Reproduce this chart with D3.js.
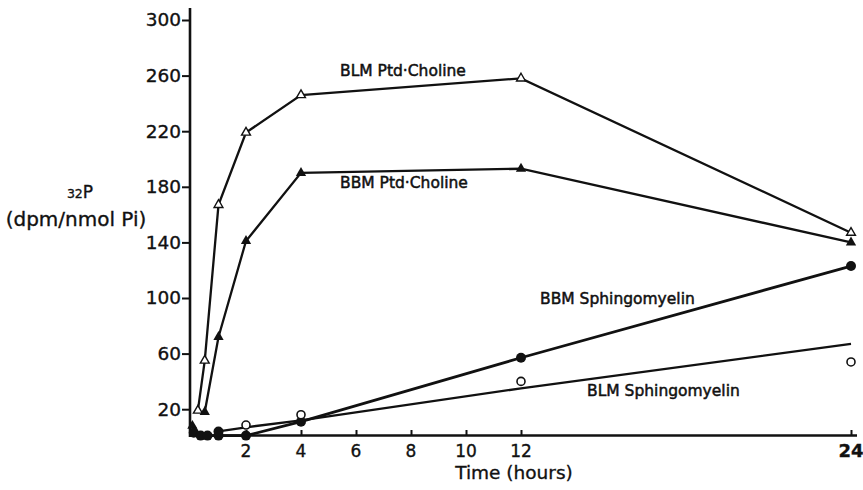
<!DOCTYPE html>
<html>
<head>
<meta charset="utf-8">
<script src="https://cdnjs.cloudflare.com/ajax/libs/d3/7.8.5/d3.min.js"></script>
<style>
    body { margin: 0; background: #fff; }
    text { font-family: "DejaVu Sans", Verdana, sans-serif; fill: #111; stroke: #111; stroke-width: 0.35px; }
</style>
</head>
<body>
<div id="chart"></div>
<script>
// Data (time in hours, 32P in dpm/nmol Pi)
var blmPcTimes = [0.25, 0.5, 1, 2, 4, 12, 24];
var blmPcValues = [19, 55, 167, 219, 246, 258, 147];

var bbmPcTimes = [0.5, 1, 2, 4, 12, 24];
var bbmPcValues = [18, 72, 141, 190, 193, 140];

var bbmSmTimes = [0, 0.25, 0.5, 1, 2, 4, 12, 24];
var bbmSmValues = [4, 2, 1, 1, 1, 11, 57, 123];

// BLM sphingomyelin is drawn as a fitted line plus separate points
var blmSmLineTimes = [1, 2, 4, 12, 24];
var blmSmLineValues = [4, 7, 12, 35, 67];
var blmSmPointTimes = [2, 4, 12, 24];
var blmSmPointValues = [8.6, 16, 40, 54];

// clutter of points near the origin
var originTriTimes = [0.05, 0.15];
var originTriValues = [8, 4];
var originDotTimes = [0.1, 0.35, 0.6, 1];
var originDotValues = [3, 1, 1, 4];

var xTicks = [2, 4, 6, 8, 10, 12, 24];
var yTicks = [20, 60, 100, 140, 180, 220, 260, 300];

var zip = function(ts, vs) { return ts.map(function(t, i) { return { t: t, v: vs[i] }; }); };

var width = 863, height = 490;

var svg = d3.select("#chart")
    .append("svg")
    .attr("width", width)
    .attr("height", height);

var x = d3.scaleLinear().domain([0, 24]).range([191, 851]);
var y = d3.scaleLinear().domain([0, 300]).range([437, 20]);

var line = d3.line()
    .x(function(d) { return x(d.t); })
    .y(function(d) { return y(d.v); });

// Axes
svg.append("line")
    .attr("x1", 190).attr("x2", 190)
    .attr("y1", 8).attr("y2", 437)
    .attr("stroke", "#111").attr("stroke-width", 2.6);

svg.append("line")
    .attr("x1", 189).attr("x2", 857)
    .attr("y1", 435.5).attr("y2", 435.5)
    .attr("stroke", "#111").attr("stroke-width", 2.6);

var yAxis = d3.axisLeft(y).tickValues(yTicks).tickSize(8).tickPadding(1);
var yg = svg.append("g")
    .attr("transform", "translate(190,0)")
    .call(yAxis);
yg.select(".domain").remove();
yg.selectAll("line").attr("stroke", "#111").attr("stroke-width", 2);
yg.selectAll("text")
    .style("font-size", "18.5px")
    .attr("font-family", null)
    .attr("fill", "#111");

var xAxis = d3.axisTop(x).tickValues(xTicks).tickSize(5).tickFormat("");
var xg = svg.append("g")
    .attr("transform", "translate(0,435)")
    .call(xAxis);
xg.select(".domain").remove();
xg.selectAll("line").attr("stroke", "#111").attr("stroke-width", 2);

// x tick labels sit below the axis
svg.selectAll(".xlab")
    .data(xTicks)
    .enter().append("text")
    .attr("class", "xlab")
    .attr("x", function(d) { return x(d); })
    .attr("y", 457)
    .attr("text-anchor", "middle")
    .style("font-size", function(d) { return d === 24 ? "18px" : "17px"; })
    .style("font-weight", function(d) { return d === 24 ? "bold" : "normal"; })
    .text(function(d) { return d; });

svg.append("text")
    .attr("x", 514).attr("y", 479)
    .attr("text-anchor", "middle")
    .style("font-size", "18.5px")
    .text("Time (hours)");

// y axis title
var yt = svg.append("text")
    .attr("x", 80).attr("y", 198)
    .attr("text-anchor", "middle")
    .style("font-size", "17px");
yt.append("tspan").style("font-size", "12.5px").text("32");
yt.append("tspan").text("P");

svg.append("text")
    .attr("x", 76).attr("y", 226)
    .attr("text-anchor", "middle")
    .style("font-size", "20px")
    .text("(dpm/nmol Pi)");

// Lines
var series = [zip(blmPcTimes, blmPcValues), zip(bbmPcTimes, bbmPcValues),
              zip(bbmSmTimes, bbmSmValues), zip(blmSmLineTimes, blmSmLineValues)];
svg.selectAll(".series")
    .data(series)
    .enter().append("path")
    .attr("class", "series")
    .attr("d", line)
    .attr("fill", "none")
    .attr("stroke", "#111")
    .attr("stroke-width", function(d, i) { return i === 2 ? 2.8 : 2.3; });

// Markers
var tri = d3.symbol().type(d3.symbolTriangle).size(34);
var bigTri = d3.symbol().type(d3.symbolTriangle).size(46);

svg.selectAll(".openTri")
    .data(zip(blmPcTimes, blmPcValues))
    .enter().append("path")
    .attr("d", tri)
    .attr("transform", function(d) { return "translate(" + x(d.t) + "," + y(d.v) + ")"; })
    .attr("fill", "#fff").attr("stroke", "#111").attr("stroke-width", 1.4);

svg.selectAll(".fillTri")
    .data(zip(bbmPcTimes, bbmPcValues).concat(zip(originTriTimes, originTriValues)))
    .enter().append("path")
    .attr("d", bigTri)
    .attr("transform", function(d) { return "translate(" + x(d.t) + "," + y(d.v) + ")"; })
    .attr("fill", "#111");

svg.selectAll(".fillDot")
    .data(zip(bbmSmTimes, bbmSmValues).slice(3).concat(zip(originDotTimes, originDotValues)))
    .enter().append("circle")
    .attr("cx", function(d) { return x(d.t); })
    .attr("cy", function(d) { return y(d.v); })
    .attr("r", 5)
    .attr("fill", "#111");

svg.selectAll(".openDot")
    .data(zip(blmSmPointTimes, blmSmPointValues))
    .enter().append("circle")
    .attr("cx", function(d) { return x(d.t); })
    .attr("cy", function(d) { return y(d.v); })
    .attr("r", 4)
    .attr("fill", "#fff")
    .attr("stroke", "#111")
    .attr("stroke-width", 1.6);

// Series labels
var labels = [
    { text: "BLM Ptd\u00b7Choline", x: 340, y: 76 },
    { text: "BBM Ptd\u00b7Choline", x: 340, y: 188 },
    { text: "BBM Sphingomyelin", x: 540, y: 304 },
    { text: "BLM Sphingomyelin", x: 587, y: 396 }
];
svg.selectAll(".slab")
    .data(labels)
    .enter().append("text")
    .attr("class", "slab")
    .attr("x", function(d) { return d.x; })
    .attr("y", function(d) { return d.y; })
    .style("font-size", "15.5px")
    .style("stroke-width", "0.5px")
    .text(function(d) { return d.text; });
</script>
</body>
</html>
